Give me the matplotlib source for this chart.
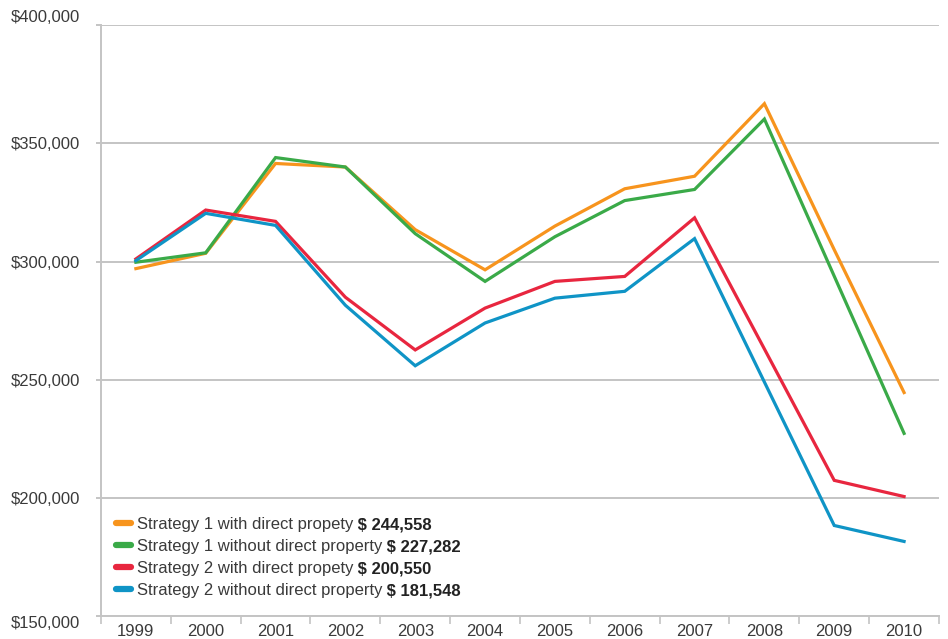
import matplotlib
matplotlib.use("Agg")
import matplotlib.pyplot as plt
from matplotlib.lines import Line2D
from matplotlib.ticker import FuncFormatter

years = ["1999", "2000", "2001", "2002", "2003", "2004",
         "2005", "2006", "2007", "2008", "2009", "2010"]
s1_with = [297000, 303500, 341500, 340000, 313500, 296500,
           315000, 330800, 336100, 366800, 305000, 244558]
s1_without = [299700, 303700, 344000, 340000, 311800, 291600,
              310500, 325800, 330500, 360300, 293800, 227282]
s2_with = [301100, 321800, 317000, 284900, 262600, 280300,
           291600, 293700, 318500, 263000, 207400, 200550]
s2_without = [300400, 320400, 315300, 281500, 255900, 274000,
              284500, 287400, 309700, 249000, 188300, 181548]

labels = ["Strategy 1 with direct propety", "Strategy 1 without direct property",
          "Strategy 2 with direct propety", "Strategy 2 without direct property"]
finals = ["$ 244,558", "$ 227,282", "$ 200,550", "$ 181,548"]
colors = ["#f7941d", "#3aaa48", "#e8263f", "#0f94c6"]

INK, GRID = "#3a3a3a", "#c4c4c4"
plt.rcParams.update({"font.family": ["Liberation Sans", "DejaVu Sans"],
                     "font.size": 12, "text.color": INK})

fig = plt.figure(figsize=(9.48, 6.39), dpi=100)
ax = fig.add_axes([0.1065, 0.036, 0.884, 0.9245])

x = list(range(len(years)))
for series, c in zip([s1_with, s1_without, s2_with, s2_without], colors):
    ax.plot(x, series, color=c, linewidth=2.3, solid_joinstyle="miter")

ax.set_xlim(-0.5, len(years) - 0.5)
ax.set_ylim(150000, 400000)
ax.set_yticks(range(150000, 400001, 50000))
ax.yaxis.set_major_formatter(FuncFormatter(lambda v, p: f"${v:,.0f}"))
ax.yaxis.grid(True, color=GRID, linewidth=1.4)
ax.set_axisbelow(True)
ax.tick_params(axis="y", length=3.6, width=1.4, color=GRID, labelcolor=INK,
               labelsize=12, pad=11.5)

ax.set_xticks(x)
ax.set_xticklabels(years)
ax.set_xticks([i - 0.5 for i in range(len(years) + 1)], minor=True)
ax.tick_params(axis="x", which="major", length=0, pad=6, labelcolor=INK, labelsize=12)
ax.tick_params(axis="x", which="minor", length=6, width=1.2, color=GRID)

for s in ["top", "right"]:
    ax.spines[s].set_visible(False)
ax.spines["left"].set_color(GRID)
ax.spines["left"].set_linewidth(1.4)
ax.spines["bottom"].set_color(GRID)
ax.spines["bottom"].set_linewidth(1.4)

tl = ax.get_yticklabels()
tl[-1].set_verticalalignment("bottom")
tl[0].set_verticalalignment("top")

handles = [Line2D([], [], color=c, linewidth=4.5, solid_capstyle="round") for c in colors]
leg = ax.legend(handles, labels, loc="lower left", bbox_to_anchor=(0.018, 0.03),
                frameon=False, fontsize=12, handlelength=0.9, handletextpad=0.35,
                labelspacing=0.42, borderpad=0, borderaxespad=0)

# bold totals after each legend entry, placed once the legend is laid out
fig.canvas.draw()
inv = fig.transFigure.inverted()
for t, val in zip(leg.get_texts(), finals):
    t.set_color(INK)
    bb = t.get_window_extent()
    fx, fy = inv.transform((bb.x1, bb.y0))
    fig.text(fx, fy, " " + val, va="bottom", ha="left",
             fontsize=12, fontweight="bold", color="#222222")

fig.savefig("out.png", dpi=100)
